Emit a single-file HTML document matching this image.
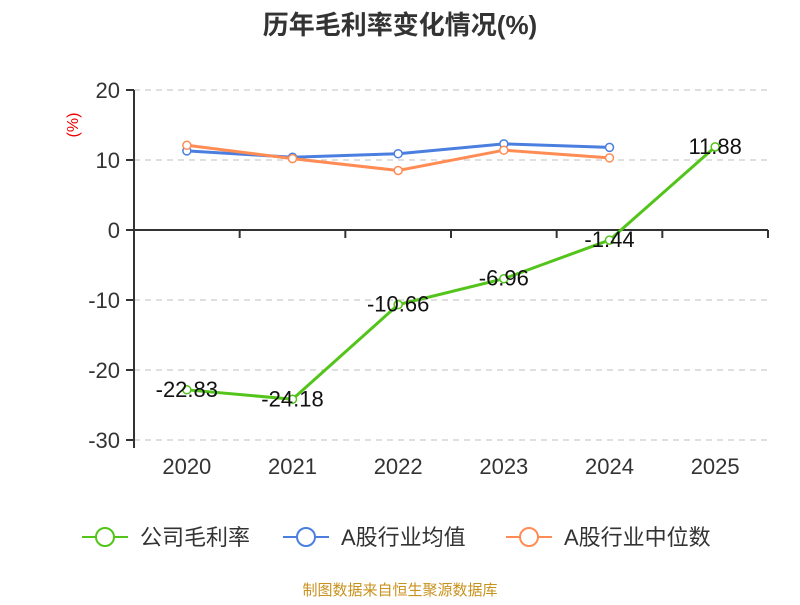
<!DOCTYPE html>
<html><head><meta charset="utf-8">
<style>
body{margin:0;background:#fff;}
svg text{font-family:"Liberation Sans","Noto Sans CJK SC",sans-serif;}
</style></head>
<body>
<svg id="chart" width="800" height="600" xmlns="http://www.w3.org/2000/svg">
<text x="400" y="34" text-anchor="middle" font-size="26" font-weight="bold" fill="#333">历年毛利率变化情况(%)</text>
<text transform="translate(78,125) rotate(-90)" text-anchor="middle" font-size="16" fill="#e00">(%)</text>
<g id="grid"></g>
<g id="axes"></g>
<g id="series"></g>
<g id="legend">
  <g>
    <line x1="82" y1="537" x2="128" y2="537" stroke="#52c41a" stroke-width="2"/>
    <circle cx="105" cy="537" r="9" fill="#fff" stroke="#52c41a" stroke-width="2"/>
    <text x="140" y="545" font-size="22" fill="#333">公司毛利率</text>
  </g>
  <g>
    <line x1="283" y1="537" x2="329" y2="537" stroke="#4a7fe0" stroke-width="2"/>
    <circle cx="306" cy="537" r="9" fill="#fff" stroke="#4a7fe0" stroke-width="2"/>
    <text x="341" y="545" font-size="22" fill="#333">A股行业均值</text>
  </g>
  <g>
    <line x1="506" y1="537" x2="552" y2="537" stroke="#ff8c55" stroke-width="2"/>
    <circle cx="529" cy="537" r="9" fill="#fff" stroke="#ff8c55" stroke-width="2"/>
    <text x="564" y="545" font-size="22" fill="#333">A股行业中位数</text>
  </g>
</g>
<text x="400" y="595" text-anchor="middle" font-size="15" fill="#c8921e">制图数据来自恒生聚源数据库</text>
</svg>
<script>
const categories=["2020","2021","2022","2023","2024","2025"];
const companyValues=[-22.83,-24.18,-10.66,-6.96,-1.44,11.88];
const industryAvg=[11.3,10.4,10.9,12.3,11.8];
const industryMedian=[12.1,10.2,8.5,11.4,10.3];
const yTicks=[20,10,0,-10,-20,-30];
const NS="http://www.w3.org/2000/svg";
const L=134,R=768,T=90,B=440,yMax=20,yMin=-30;
const bw=(R-L)/categories.length;
const x=i=>L+bw*(i+0.5);
const y=v=>T+(yMax-v)/(yMax-yMin)*(B-T);
function mk(p,tag,a,t){const e=document.createElementNS(NS,tag);for(const k in a)e.setAttribute(k,a[k]);if(t!==undefined)e.textContent=t;p.appendChild(e);return e;}
const grid=document.getElementById('grid'),axes=document.getElementById('axes'),ser=document.getElementById('series');
yTicks.forEach(v=>{
  if(v!==0){const g=mk(grid,'line',{x1:L,x2:R,y1:y(v),y2:y(v),stroke:'#ccc','stroke-dasharray':'6,5','stroke-width':1.3});
  
  }
  mk(axes,'line',{x1:L-8,x2:L,y1:y(v),y2:y(v),stroke:'#333','stroke-width':2});
  const t=mk(axes,'text',{x:L-14,y:y(v)+8,'text-anchor':'end','font-size':22,fill:'#333'},String(v));
  
  
});
mk(axes,'line',{x1:L,x2:L,y1:T,y2:B+8,stroke:'#333','stroke-width':2});
mk(axes,'line',{x1:L,x2:R,y1:y(0),y2:y(0),stroke:'#333','stroke-width':2});
for(let i=0;i<=categories.length;i++)mk(axes,'line',{x1:L+bw*i,x2:L+bw*i,y1:y(0),y2:y(0)+8,stroke:'#333','stroke-width':2});
categories.forEach((c,i)=>{const t=mk(axes,'text',{x:x(i),y:474,'text-anchor':'middle','font-size':22,fill:'#333'},c);

});
function line(vals,color,name){
  const pts=vals.map((v,i)=>x(i)+','+y(v)).join(' ');
  const p=mk(ser,'polyline',{points:pts,fill:'none',stroke:color,'stroke-width':3});
  
  
  vals.forEach((v,i)=>{const c=mk(ser,'circle',{cx:x(i),cy:y(v),r:4,fill:'#fff',stroke:color,'stroke-width':1.5});
  
  });
}
line(industryAvg,'#4a7fe0','industry-avg');
line(industryMedian,'#ff8c55','industry-median');
line(companyValues,'#52c41a','company');
companyValues.forEach((v,i)=>{const t=mk(ser,'text',{x:x(i),y:y(v)+7,'text-anchor':'middle','font-size':22,fill:'#111'},v.toFixed(2));

});
</script>
</body></html>
